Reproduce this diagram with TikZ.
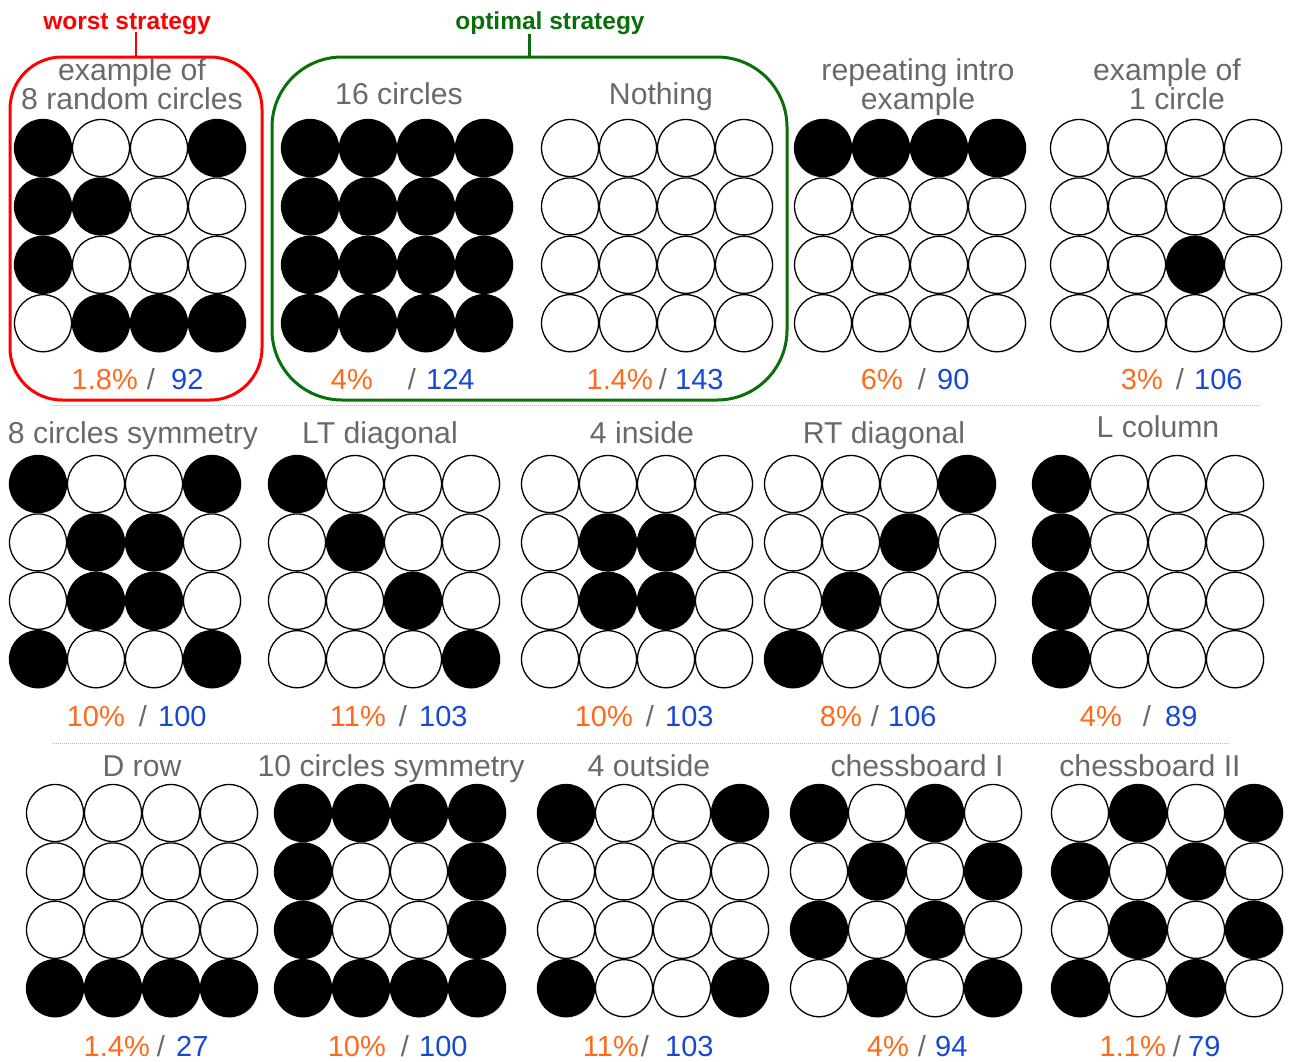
\documentclass[tikz,border=0pt]{standalone}
\usepackage{fontspec}
\setmainfont{Liberation Sans}
\usetikzlibrary{shadows}
\definecolor{ttlgray}{RGB}{105,105,105}
\definecolor{pctorange}{RGB}{255,105,25}
\definecolor{numblue}{RGB}{22,72,212}
\definecolor{worstred}{RGB}{255,0,0}
\definecolor{optgreen}{RGB}{10,110,10}
\definecolor{sepgray}{RGB}{185,185,185}
\newcommand\patgrid[4]{%
  \foreach \v [count=\k from 0] in {#4} {%
    \pgfmathtruncatemacro\cc{mod(\k,4)}%
    \pgfmathtruncatemacro\rr{floor(\k/4)}%
    \ifnum\v=1
      \node[disc, fill=black] (#1-\k) at ({#2+58*\cc},{#3+58.4*\rr}) {};
    \else
      \node[disc, fill=white] (#1-\k) at ({#2+58*\cc},{#3+58.4*\rr}) {};
    \fi
  }}
\newcommand\score[7]{%
  \node[numtxt, text=pctorange, anchor=base east] (#1p) at (#3,#2) {#4};
  \node[numtxt, text=ttlgray, anchor=base] (#1s) at (#5,#2) {/};
  \node[numtxt, text=numblue, anchor=base west] (#1n) at (#6,#2) {#7};}
\begin{document}
\begin{tikzpicture}[x=1pt,y=-1pt,
  disc/.style={circle, draw=black, line width=1.3pt, minimum size=57pt, inner sep=0pt,
    circular drop shadow={shadow xshift=0.8pt, shadow yshift=-0.8pt, fill=black!50, opacity=0.45, shadow scale=1.03}},
  ttl/.style={text=ttlgray, inner sep=0pt, anchor=base, font=\fontsize{30.2}{34}\selectfont},
  numtxt/.style={inner sep=0pt, font=\fontsize{29}{34}\selectfont},
  stratlbl/.style={inner sep=0pt, anchor=base, font=\fontsize{24.5}{28}\selectfont\bfseries},
  sepline/.style={sepgray, line width=1pt, dash pattern=on 1pt off 1pt},
  groupbox/.style={line width=3pt, inner sep=0pt, fill=none}]
\useasboundingbox (0,0) rectangle (1289,1061);

% group boxes
\node[groupbox, draw=worstred, rounded corners=52pt, minimum width=252pt, minimum height=343pt] (worstbox) at (136,228.5) {};
\node[groupbox, draw=optgreen, rounded corners=70pt, minimum width=515pt, minimum height=343pt] (optbox) at (529.5,228.5) {};
\node[stratlbl, text=worstred] (worstlbl) at (127,29) {worst strategy};
\node[stratlbl, text=optgreen] (optlbl) at (550,29) {optimal strategy};
\draw[worstred, line width=2.5pt] (worstbox.north) -- ++(0,-24);
\draw[optgreen, line width=2.5pt] (optbox.north) -- ++(0,-22);

% separators
\draw[sepline] (52,405) -- (1260,405);
\draw[sepline] (52,743) -- (1230,743);

% row 1
\patgrid{ga}{43}{148}{1,0,0,1, 1,1,0,0, 1,0,0,0, 0,1,1,1}
\patgrid{gb}{310}{148}{1,1,1,1, 1,1,1,1, 1,1,1,1, 1,1,1,1}
\patgrid{gc}{570}{148}{0,0,0,0, 0,0,0,0, 0,0,0,0, 0,0,0,0}
\patgrid{gd}{823}{148}{1,1,1,1, 0,0,0,0, 0,0,0,0, 0,0,0,0}
\patgrid{ge}{1079}{148}{0,0,0,0, 0,0,0,0, 0,0,1,0, 0,0,0,0}
% row 2
\patgrid{gf}{38}{484}{1,0,0,1, 0,1,1,0, 0,1,1,0, 1,0,0,1}
\patgrid{gg}{297}{484}{1,0,0,0, 0,1,0,0, 0,0,1,0, 0,0,0,1}
\patgrid{gh}{550}{484}{0,0,0,0, 0,1,1,0, 0,1,1,0, 0,0,0,0}
\patgrid{gi}{793}{484}{0,0,0,1, 0,0,1,0, 0,1,0,0, 1,0,0,0}
\patgrid{gj}{1061}{484}{1,0,0,0, 1,0,0,0, 1,0,0,0, 1,0,0,0}
% row 3
\patgrid{gk}{55}{813}{0,0,0,0, 0,0,0,0, 0,0,0,0, 1,1,1,1}
\patgrid{gl}{303}{813}{1,1,1,1, 1,0,0,1, 1,0,0,1, 1,1,1,1}
\patgrid{gm}{566}{813}{1,0,0,1, 0,0,0,0, 0,0,0,0, 1,0,0,1}
\patgrid{gn}{819}{813}{1,0,1,0, 0,1,0,1, 1,0,1,0, 0,1,0,1}
\patgrid{go}{1080}{813}{0,1,0,1, 1,0,1,0, 0,1,0,1, 1,0,1,0}

% titles row 1
\node[ttl] (ta1) at (132,80) {example of};
\node[ttl] (ta2) at (132,109) {8 random circles};
\node[ttl] (tb) at (399,104) {16 circles};
\node[ttl] (tc) at (661,104) {Nothing};
\node[ttl] (td1) at (918,80) {repeating intro};
\node[ttl] (td2) at (918,109) {example};
\node[ttl] (te1) at (1167,80) {example of};
\node[ttl] (te2) at (1177,109) {1 circle};
% titles row 2
\node[ttl] (tf) at (133,443) {8 circles symmetry};
\node[ttl] (tg) at (380,443) {LT diagonal};
\node[ttl] (th) at (642,443) {4 inside};
\node[ttl] (ti) at (884,443) {RT diagonal};
\node[ttl] (tj) at (1158,437) {L column};
% titles row 3
\node[ttl] (tk) at (142,776) {D row};
\node[ttl] (tl) at (391,776) {10 circles symmetry};
\node[ttl] (tm) at (649,776) {4 outside};
\node[ttl] (tn) at (917,776) {chessboard I};
\node[ttl] (to) at (1150,776) {chessboard II};

% scores row 1
\score{sa}{389}{138}{1.8\%}{151}{171}{92}
\score{sb}{389}{373}{4\%}{412}{426}{124}
\score{sc}{389}{653}{1.4\%}{663}{675}{143}
\score{sd}{389}{903}{6\%}{922}{937}{90}
\score{se}{389}{1163}{3\%}{1180}{1194}{106}
% scores row 2
\score{sf}{726}{125}{10\%}{143}{158}{100}
\score{sg}{726}{386}{11\%}{403}{419}{103}
\score{sh}{726}{633}{10\%}{650}{665}{103}
\score{si}{726}{862}{8\%}{875}{888}{106}
\score{sj}{726}{1122}{4\%}{1147}{1165}{89}
% scores row 3
\score{sk}{1056}{150}{1.4\%}{161}{176}{27}
\score{sl}{1056}{386}{10\%}{405}{419}{100}
\score{sm}{1056}{639}{11\%}{645}{665}{103}
\score{sn}{1056}{909}{4\%}{922}{935}{94}
\score{so}{1056}{1166}{1.1\%}{1177}{1188}{79}
\end{tikzpicture}
\end{document}
